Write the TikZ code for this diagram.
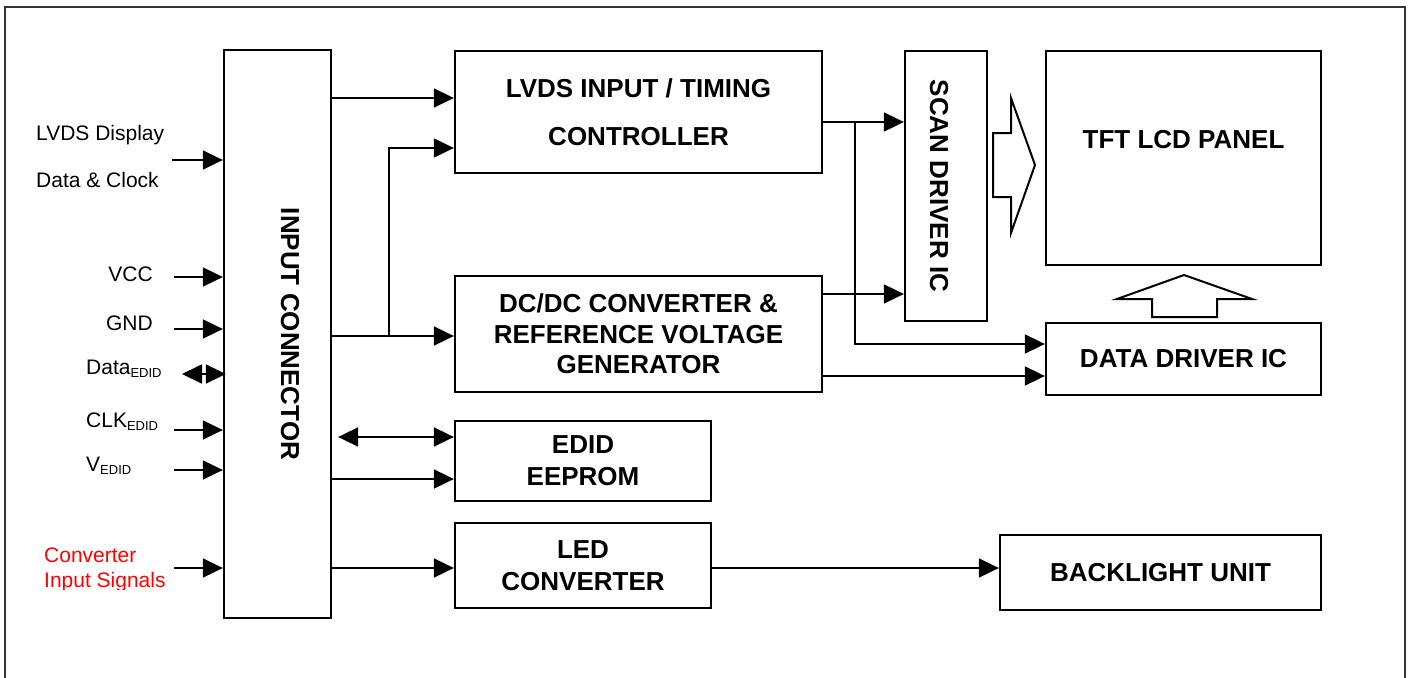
\documentclass[tikz,border=0pt]{standalone}
\usepackage{fontspec}
\setmainfont{Liberation Sans}
\usetikzlibrary{arrows.meta}
\newcommand\subtxt[1]{\raisebox{-3pt}{\fontsize{13}{13}\selectfont #1}}
\begin{document}
\begin{tikzpicture}[x=1pt,y=-1pt,
  frame/.style={draw=black!80, line width=1.4pt},
  blk/.style={draw, line width=2.3pt, inner sep=0pt, align=center,
    font=\bfseries\fontsize{26}{31}\selectfont},
  btxt/.style={inner sep=0pt, font=\bfseries\fontsize{26}{31}\selectfont},
  lbl/.style={inner sep=0pt, font=\fontsize{21}{25}\selectfont},
  conn/.style={line width=1.8pt, -{Triangle[length=20pt,width=19pt]}},
  biconn/.style={line width=1.8pt, {Triangle[length=20pt,width=19pt]}-{Triangle[length=20pt,width=19pt]}},
  hollow/.style={draw, line width=2pt, fill=white}]
\useasboundingbox (0,0) rectangle (1410,677);
\draw[frame] (5,680) -- (5,7) -- (1405,7) -- (1405,680);

% boxes
\node[blk, minimum width=107pt, minimum height=568pt] (ic) at (277.5,334) {};
\node[btxt, rotate=-90] (ictext) at (290,334) {INPUT CONNECTOR};
\node[blk, minimum width=367pt, minimum height=122pt] (lvds) at (638.5,112) {LVDS INPUT / TIMING\\[17pt]CONTROLLER};
\node[blk, minimum width=367pt, minimum height=116pt, font=\bfseries\fontsize{26}{30.5}\selectfont] (dcdc) at (638.5,334) {DC/DC CONVERTER \&\\REFERENCE VOLTAGE\\GENERATOR};
\node[blk, minimum width=256pt, minimum height=80pt, font=\bfseries\fontsize{26}{32}\selectfont] (edid) at (583,461) {EDID\\EEPROM};
\node[blk, minimum width=256pt, minimum height=85pt, font=\bfseries\fontsize{26}{32}\selectfont] (led) at (583,565.5) {LED\\CONVERTER};
\node[blk, minimum width=82pt, minimum height=270pt] (scan) at (946,186) {};
\node[btxt, rotate=-90] (scantext) at (939,186) {SCAN DRIVER IC};
\node[blk, minimum width=275pt, minimum height=214pt] (tft) at (1183.5,158) {};
\node[btxt] (tfttext) at (1183.5,140) {TFT LCD PANEL};
\node[blk, minimum width=275pt, minimum height=72pt] (data) at (1183.5,359) {DATA DRIVER IC};
\node[blk, minimum width=321pt, minimum height=75pt] (bl) at (1160.5,572.5) {BACKLIGHT UNIT};

% hollow block arrows
\draw[hollow] (993,133) -- (1011,133) -- (1011,98) -- (1035,165) -- (1011,233) -- (1011,197) -- (993,197) -- cycle;
\draw[hollow] (1152,317) -- (1152,299) -- (1117,299) -- (1184,275) -- (1252,299) -- (1217,299) -- (1217,317) -- cycle;

% internal connectors
\draw[conn] (ic.east |- 0,98) -- (lvds.west |- 0,98);
\coordinate (j1) at (389,336);
\draw[conn] (ic.east |- j1) -- (dcdc.west |- j1);
\draw[conn] (j1) |- (lvds.west |- 0,148);
\coordinate (j2) at (855,122);
\draw[conn] (lvds.east |- j2) -- (scan.west |- j2);
\draw[conn] (j2) |- (data.west |- 0,344);
\draw[conn] (dcdc.east |- 0,294) -- (scan.west |- 0,294);
\draw[conn] (dcdc.east |- 0,376) -- (data.west |- 0,376);
\draw[biconn, shorten <=6pt] (ic.east |- 0,437) -- (edid.west |- 0,437);
\draw[conn] (ic.east |- 0,479) -- (edid.west |- 0,479);
\draw[conn] (ic.east |- 0,568) -- (led.west |- 0,568);
\draw[conn] (led.east |- 0,568) -- (bl.west |- 0,568);

% inputs
\coordinate (in1) at (172,160);
\coordinate (in2) at (174,277);
\coordinate (in3) at (174,329);
\coordinate (in4) at (182,374);
\coordinate (in5) at (174,430);
\coordinate (in6) at (174,470);
\coordinate (in7) at (174,568);
\draw[conn] (in1) -- (ic.west |- in1);
\draw[conn] (in2) -- (ic.west |- in2);
\draw[conn] (in3) -- (ic.west |- in3);
\draw[biconn, shorten >=-3pt] (in4) -- (ic.west |- in4);
\draw[conn] (in5) -- (ic.west |- in5);
\draw[conn] (in6) -- (ic.west |- in6);
\draw[conn] (in7) -- (ic.west |- in7);

% labels
\node[lbl, anchor=base west] (l1) at (36,140) {LVDS Display};
\node[lbl, anchor=base west] (l2) at (36,187) {Data \& Clock};
\node[lbl, anchor=base east] (l3) at (153,281) {VCC};
\node[lbl, anchor=base east] (l4) at (153,330) {GND};
\node[lbl, anchor=base west] (l5) at (86,374) {Data\subtxt{EDID}};
\node[lbl, anchor=base west] (l6) at (86,427) {CLK\subtxt{EDID}};
\node[lbl, anchor=base west] (l7) at (86,471) {V\subtxt{EDID}};
\node[lbl, red, anchor=base west] (l8) at (44,562) {Converter};
\begin{scope}
\clip (0,0) rectangle (300,589);
\node[lbl, red, anchor=base west] (l9) at (44,587) {Input Signals};
\end{scope}
\end{tikzpicture}
\end{document}
